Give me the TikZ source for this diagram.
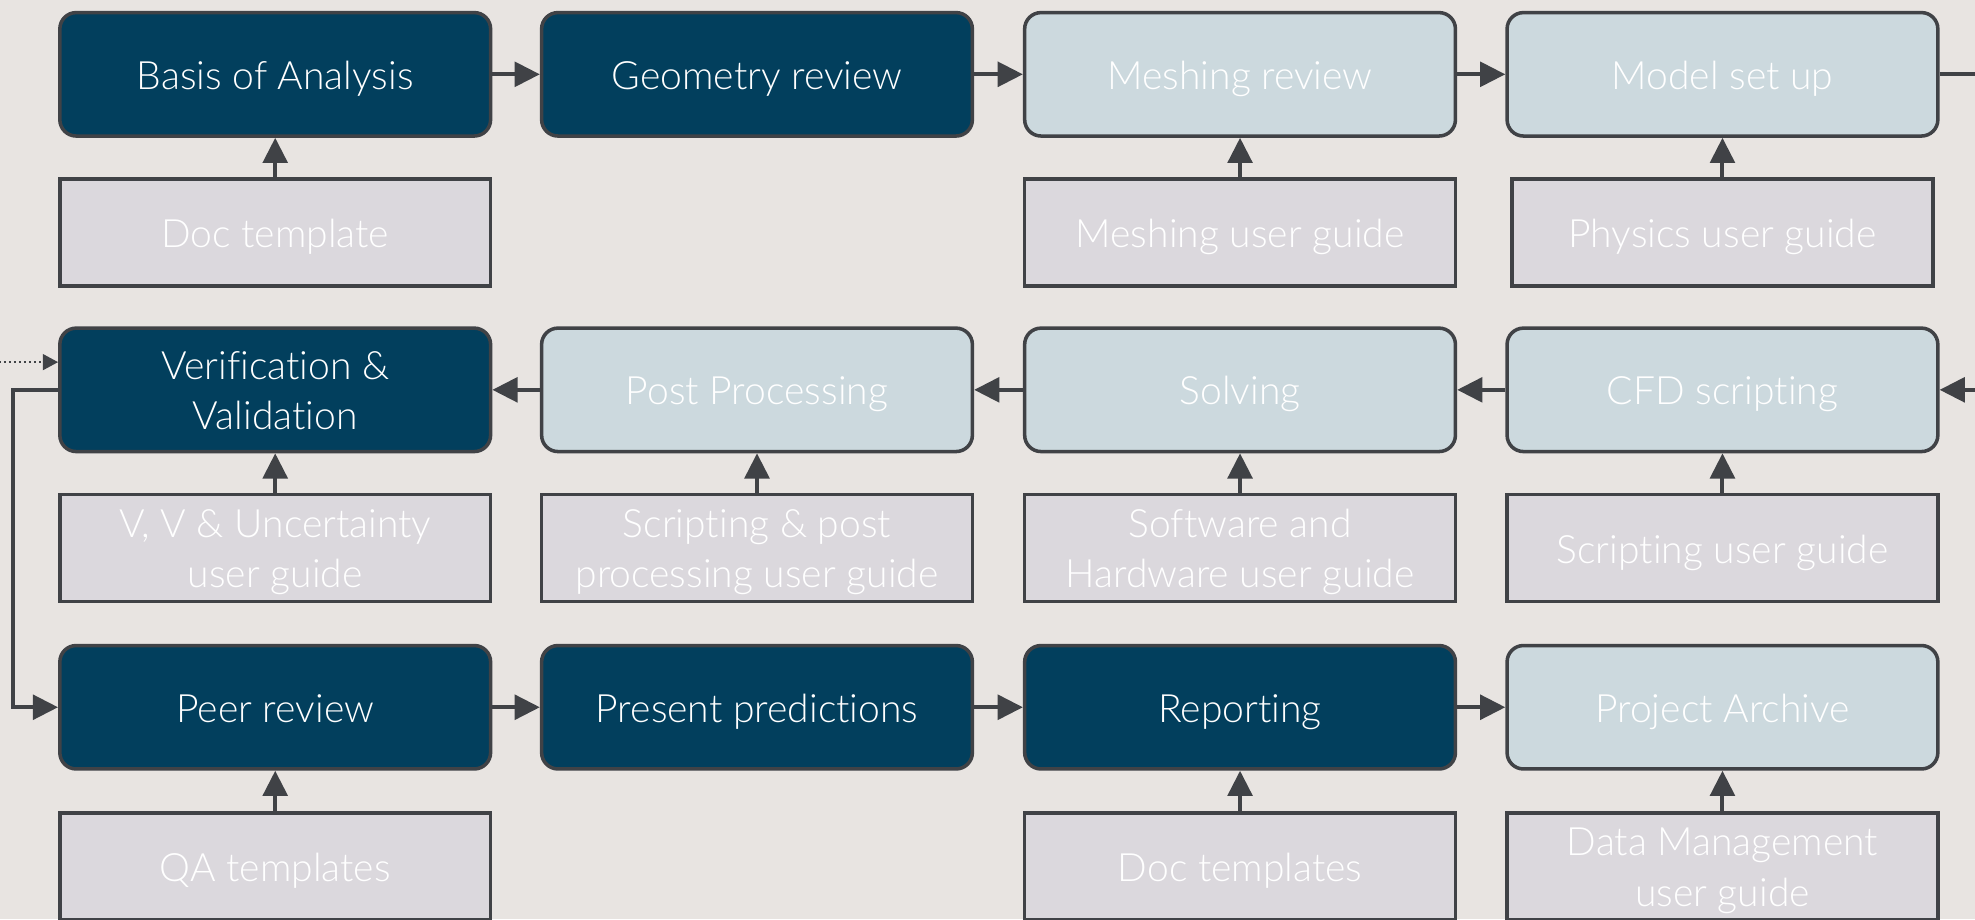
\documentclass[tikz,border=0pt]{standalone}
\usepackage{fontspec}
\setmainfont{Lato}[UprightFont={* Light}, Ligatures={NoCommon}]
\usetikzlibrary{arrows.meta}

\definecolor{bgcol}{RGB}{232,228,225}
\definecolor{navy}{RGB}{2,63,93}
\definecolor{paleblue}{RGB}{204,217,222}
\definecolor{guidefill}{RGB}{219,216,221}
\definecolor{edgecol}{RGB}{64,66,70}

% fixed label height and depth, so every label sits alike in its box
\newcommand{\topstrut}{\rule{0pt}{31pt}}
\newcommand{\tallstrut}{\rule{0pt}{70pt}}
\newcommand{\botstrut}{\rule[-7pt]{0pt}{7pt}}

\tikzset{
  x=1pt, y=-1pt,
  labeltext/.style={text=white, align=center, font=\fontsize{31}{40}\selectfont,
    execute at begin node=\topstrut, execute at end node=\botstrut},
  twolines/.style={execute at begin node=\tallstrut},
  stage/.style={labeltext, rectangle, rounded corners=13pt, draw=edgecol,
    line width=2.8pt, minimum width=342pt, minimum height=98pt, inner sep=0pt},
  keystage/.style={stage, fill=navy},
  substage/.style={stage, fill=paleblue},
  guide/.style={labeltext, rectangle, draw=edgecol, line width=2.8pt,
    fill=guidefill, minimum width=342pt, minimum height=85pt, inner sep=0pt},
  conn/.style={draw=edgecol, line width=3.2pt,
    -{Triangle[length=20pt,width=19.5pt]}},
  dotconn/.style={draw=edgecol, line width=1.6pt, dash pattern=on 1.6pt off 2.4pt,
    -{Triangle[length=12pt,width=12.5pt]}},
}

\begin{document}
\begin{tikzpicture}
\clip (0,0) rectangle (1568,730);
\fill[bgcol] (0,0) rectangle (1568,730);

% row 1
\node[keystage] (basis) at (218.5,59) {Basis of Analysis};
\node[keystage] (geom)  at (601,59) {Geometry review};
\node[substage] (mesh)  at (984.5,59) {Meshing review};
\node[substage] (model) at (1367.5,59) {Model set up};
\node[guide] (docT)  at (218.5,184.5) {Doc template};
\node[guide] (meshG) at (984.5,184.5) {Meshing user guide};
\node[guide, minimum width=334pt] (physG) at (1367.5,184.5) {Physics user guide};

% row 2
\node[keystage, twolines] (vv) at (218.5,309.5) {Verification \&\\Validation};
\node[substage] (post)  at (601,309.5) {Post Processing};
\node[substage] (solve) at (984.5,309.5) {Solving};
\node[substage] (cfd)   at (1367.5,309.5) {CFD scripting};
\node[guide, twolines] (vvG)    at (218.5,435) {V, V \& Uncertainty\\user guide};
\node[guide, twolines] (postG)  at (601,435) {Scripting \& post\\processing user guide};
\node[guide, twolines] (solveG) at (984.5,435) {Software and\\Hardware user guide};
\node[guide] (scriptG) at (1367.5,435) {Scripting user guide};

% row 3
\node[keystage] (peer)    at (218.5,561.5) {Peer review};
\node[keystage] (present) at (601,561.5) {Present predictions};
\node[keystage] (report)  at (984.5,561.5) {Reporting};
\node[substage] (archive) at (1367.5,561.5) {Project Archive};
\node[guide] (qaT)    at (218.5,688) {QA templates};
\node[guide] (repT)   at (984.5,688) {Doc templates};
\node[guide, twolines] (dataG) at (1367.5,688) {Data Management\\user guide};

% flow along the rows
\draw[conn] (basis) -- (geom);
\draw[conn] (geom) -- (mesh);
\draw[conn] (mesh) -- (model);
\draw[conn] (cfd) -- (solve);
\draw[conn] (solve) -- (post);
\draw[conn] (post) -- (vv);
\draw[conn] (peer) -- (present);
\draw[conn] (present) -- (report);
\draw[conn] (report) -- (archive);

% wrap from row 1 into row 2 on the right
\coordinate (wrapR) at (1600,59);
\draw[conn] (model.east) -- (wrapR) |- (cfd.east);

% loop from verification down to peer review on the left
\coordinate (wrapL) at (10.5,309.5);
\draw[conn] (vv.west) -- (wrapL) |- (peer.west);

% incoming dotted link
\coordinate (dotIn) at (-5,287.5);
\draw[dotconn] (dotIn) -- (vv.west |- dotIn);

% supporting documents feed each stage
\draw[conn] (docT) -- (basis);
\draw[conn] (meshG) -- (mesh);
\draw[conn] (physG) -- (model);
\draw[conn] (vvG) -- (vv);
\draw[conn] (postG) -- (post);
\draw[conn] (solveG) -- (solve);
\draw[conn] (scriptG) -- (cfd);
\draw[conn] (qaT) -- (peer);
\draw[conn] (repT) -- (report);
\draw[conn] (dataG) -- (archive);
\end{tikzpicture}
\end{document}
